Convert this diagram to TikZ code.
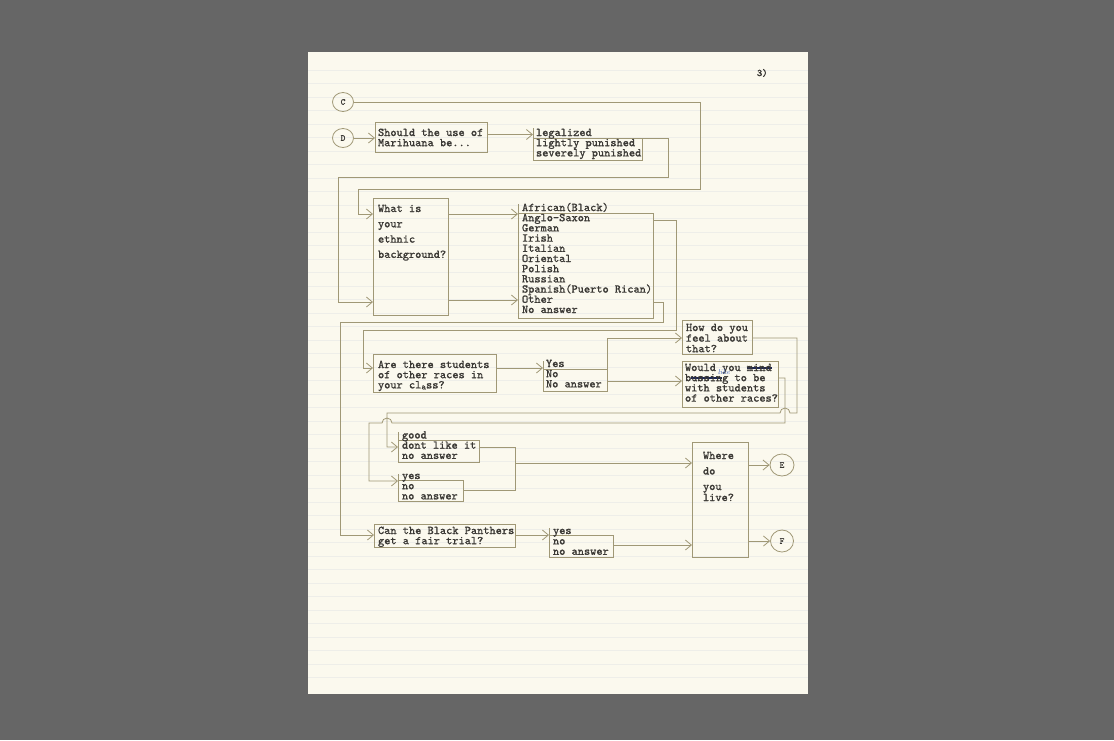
\documentclass[tikz,border=0pt]{standalone}
\usetikzlibrary{arrows.meta,fit,shapes.geometric}
\font\tw="[lmmono10-regular.otf]:embolden=1.2" at 11.8pt
\font\twsm="[lmmono10-regular.otf]:embolden=1.2" at 9pt
\font\twpg="[lmmono10-regular.otf]:embolden=2.5" at 10pt
\definecolor{bgc}{RGB}{102,102,102}
\definecolor{paperc}{RGB}{251,249,238}
\definecolor{rulec}{RGB}{238,238,233}
\definecolor{linec}{RGB}{160,152,118}
\definecolor{txtc}{RGB}{58,56,52}
\definecolor{inkc}{RGB}{60,95,185}
\definecolor{strikec}{RGB}{30,40,85}
\newcommand\myln[1]{\hbox{#1}}
\newcommand\tblock[2]{\vtop{\baselineskip=#1pt\lineskiplimit=-100pt\lineskip=0pt #2}}
\newcommand\strk[1]{\setbox0\hbox{#1}\rlap{\textcolor{strikec}{\rule[2.3pt]{\wd0}{1.8pt}}}\box0}
\tikzset{
  ln/.style={draw=linec, line width=0.8pt},
  arr/.style={-{Straight Barb[length=6pt,width=10pt,line width=0.8pt]}},
  qb/.style={draw=linec, line width=0.8pt, rectangle, inner sep=0pt, outer sep=0pt},
  tx/.style={anchor=base west, inner sep=0pt, outer sep=0pt, text=txtc, font=\tw},
  cir/.style={draw=linec, line width=0.8pt, ellipse, inner sep=0pt, minimum width=21pt, minimum height=19pt, text=txtc, font=\twsm},
}
\begin{document}
\begin{tikzpicture}[x=1pt,y=-1pt]
\useasboundingbox (0,0) rectangle (1114,740);
\fill[bgc] (0,0) rectangle (1114,740);
\fill[paperc] (308,52) rectangle (808,694);
\foreach \yy in {70,83.5,...,690} \draw[rulec, line width=0.5pt] (308,\yy) -- (808,\yy);

\node[tx, font=\twpg] (pg) at (757,76) {3)};

% circles
\node[cir] (C) at (343,102) {C};
\node[cir] (D) at (343,138) {D};
\node[cir, minimum width=24pt, minimum height=22pt] (E) at (782,465) {E};
\node[cir, minimum width=23pt, minimum height=22pt] (F) at (782,541) {F};

% boxes
\node[qb, fit={(375,122) (487,152)}] (q1) {};
\node[qb, fit={(533,138) (642,160)}] (a1) {};
\node[qb, fit={(373,198) (448,315)}] (q2) {};
\node[qb, fit={(518,213) (653,318)}] (a2) {};
\node[qb, fit={(373,354) (496,392)}] (q3) {};
\node[qb, fit={(543,369.5) (607,391)}] (a3) {};
\node[qb, fit={(682,320) (752,354)}] (q4) {};
\node[qb, fit={(682,361) (778,407)}] (q5) {};
\node[qb, fit={(398,440) (479,462)}] (a4) {};
\node[qb, fit={(398,480) (463,501)}] (a5) {};
\node[qb, fit={(692,442) (748,557)}] (q7) {};
\node[qb, fit={(374,524) (515,547)}] (q6) {};
\node[qb, fit={(549,535) (613,557)}] (a6) {};

% left edges of answer boxes reaching up to the first answer
\draw[ln] (a1.north west) -- ++(0,-10);
\draw[ln] (a2.north west) -- ++(0,-9);
\draw[ln] (a3.north west) -- ++(0,-9);
\draw[ln] (a4.north west) -- ++(0,-8);
\draw[ln] (a5.north west) -- ++(0,-6);
\draw[ln] (a6.north west) -- ++(0,-7);

% texts
\node[tx] (t1) at (378,136) {\tblock{10.2}{\myln{Should the use of}\myln{Marihuana be...}}};
\node[tx] (ta1) at (536,136) {\tblock{10.2}{\myln{legalized}\myln{lightly punished}\myln{severely punished}}};
\node[tx] (t2) at (378,212) {\tblock{15.3}{\myln{What is}\myln{your}\myln{ethnic}\myln{background?}}};
\node[tx] (ta2) at (522,211) {\tblock{10.2}{\myln{African(Black)}\myln{Anglo-Saxon}\myln{German}\myln{Irish}\myln{Italian}\myln{Oriental}\myln{Polish}\myln{Russian}\myln{Spanish(Puerto Rican)}\myln{Other}\myln{No answer}}};
\node[tx] (t3) at (378,368) {\tblock{10.2}{\myln{Are there students}\myln{of other races in}\myln{your cl\lower1pt\hbox{\twsm a}ss?}}};
\node[tx] (ta3) at (546,367) {\tblock{10.2}{\myln{Yes}\myln{No}\myln{No answer}}};
\node[tx] (t4) at (686,331) {\tblock{10.6}{\myln{How do you}\myln{feel about}\myln{that?}}};
\node[tx] (t5) at (685,371) {\tblock{10.2}{\myln{Would you \strk{mind}}\myln{b\strk{ussin}g to be}\myln{with students}\myln{of other races?}}};
\node[text=inkc, font=\itshape\fontsize{7}{7}\selectfont, inner sep=0pt] (like) at (724,372.5) {like};
\node[tx] (ta4) at (402,438.5) {\tblock{10.2}{\myln{good}\myln{dont like it}\myln{no answer}}};
\node[tx] (ta5) at (402,479) {\tblock{10.2}{\myln{yes}\myln{no}\myln{no answer}}};
\node[tx] (t7) at (703,459) {\tblock{15.5}{\myln{Where}\myln{do}\myln{you}\vskip-4.5pt\myln{live?}}};
\node[tx] (t6) at (378,534) {\tblock{10.2}{\myln{Can the Black Panthers}\myln{get a fair trial?}}};
\node[tx] (ta6) at (553,534) {\tblock{10.4}{\myln{yes}\myln{no}\myln{no answer}}};

% connectors
\draw[ln, arr] (C.east) -- (700,102) -- (700,189) -- (358,189) -- (358,214) -- (q2.west |- 0,214);
\draw[ln, arr] (D.east) -- (q1.west |- D.east);
\draw[ln, arr] (q1.east |- 0,134.5) -- (a1.west |- 0,134.5);
\draw[ln, arr] (a1.north east) -- (668,138) -- (668,177) -- (338,177) -- (338,302) -- (q2.west |- 0,302);
\draw[ln, arr] (q2.east |- 0,214) -- (a2.west |- 0,214);
\draw[ln, arr] (q2.east |- 0,300) -- (a2.west |- 0,300);
\draw[ln, arr] (a2.east |- 0,220) -- (676,220) -- (676,330) -- (363,330) -- (363,368) -- (q3.west |- 0,368);
\draw[ln, arr] (a2.east |- 0,302) -- (663,302) -- (663,322) -- (340,322) -- (340,535) -- (q6.west |- 0,535);
\draw[ln, arr] (q3.east |- 0,368) -- (a3.west |- 0,368);
\draw[ln, arr] (a3.north east) -- (607,338) -- (q4.west |- 0,338);
\draw[ln, arr] (a3.east |- 0,381) -- (q5.west |- 0,381);
\draw[ln, arr] (q4.east |- 0,338) -- (797,338) -- (797,413) -- (790,413)
   arc[start angle=0, end angle=180, radius=5pt] -- (387,413) -- (387,447) -- (a4.west |- 0,447);
\draw[ln, arr] (q5.east |- 0,378) -- (785,378) -- (785,423) -- (392,423)
   arc[start angle=0, end angle=180, radius=5pt] -- (369,423) -- (369,481) -- (a5.west |- 0,481);
\draw[ln] (a4.east |- 0,447) -- (515,447) -- (515,490) -- (a5.east |- 0,490);
\draw[ln, arr] (515,463) -- (q7.west |- 0,463);
\draw[ln, arr] (q6.east |- 0,535) -- (a6.west |- 0,535);
\draw[ln, arr] (a6.east |- 0,545) -- (q7.west |- 0,545);
\draw[ln, arr] (q7.east |- E.west) -- (E.west);
\draw[ln, arr] (q7.east |- F.west) -- (F.west);
\end{tikzpicture}
\end{document}
